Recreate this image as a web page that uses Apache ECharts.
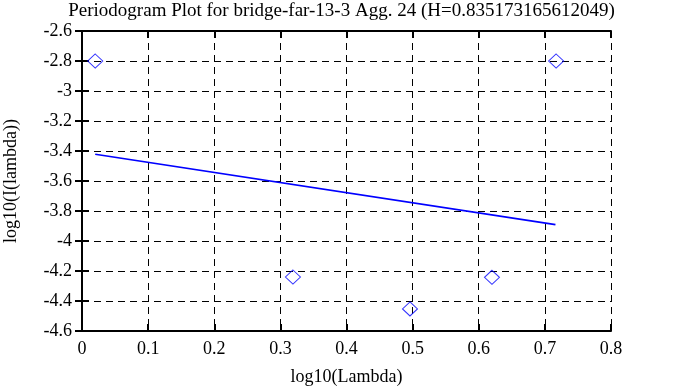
<!DOCTYPE html>
<html><head><meta charset="utf-8">
<script src="https://cdn.jsdelivr.net/npm/echarts@6/dist/echarts.min.js"></script>
<style>html,body{margin:0;padding:0;background:#fff}#c{width:683px;height:387px}</style>
</head><body><div id="c"></div>
<script>
const titleText = 'Periodogram Plot for bridge-far-13-3 Agg. 24 (H=0.835173165612049)';
const xName = 'log10(Lambda)';
const yName = 'log10(I(lambda))';
const logLambda = [0.02, 0.319, 0.496, 0.62, 0.717];
const logI = [-2.8, -4.24, -4.453, -4.242, -2.8];
const fitX = [0.02, 0.716];
const fitY = [-3.422, -3.891];

const font = 'Liberation Serif';
const fs = 18;
const chart = echarts.init(document.getElementById('c'), null, {renderer: 'canvas'});
const gridLine = {show: true, lineStyle: {color: '#000', type: [7, 5], width: 1}};
const axisLine = {show: true, lineStyle: {color: '#000', width: 2}};
const tick = {show: true, inside: true, length: 7, lineStyle: {color: '#000', width: 2}};
chart.setOption({
  animation: false,
  backgroundColor: '#fff',
  title: {text: titleText, left: 'center', top: -3,
    textStyle: {fontFamily: font, fontSize: 19, fontWeight: 'normal', color: '#000'}},
  grid: {left: 82, right: 72, top: 31, bottom: 56, containLabel: false, outerBoundsMode: 'none'},
  xAxis: [{
    type: 'value', min: 0, max: 0.8, interval: 0.1, position: 'bottom',
    name: xName, nameLocation: 'middle', nameGap: 37,
    nameTextStyle: {fontFamily: font, fontSize: fs, color: '#000'},
    axisLine: axisLine, axisTick: tick, splitLine: gridLine,
    axisLabel: {fontFamily: font, fontSize: fs, color: '#000', margin: 9, formatter: v => String(+v.toFixed(1))}
  }, {
    type: 'value', min: 0, max: 0.8, interval: 0.1, position: 'top',
    axisLine: axisLine, axisTick: tick, splitLine: {show: false}, axisLabel: {show: false}
  }],
  yAxis: [{
    type: 'value', min: -4.6, max: -2.6, interval: 0.2, position: 'left',
    name: yName, nameLocation: 'middle', nameGap: 62, nameRotate: 90,
    nameTextStyle: {fontFamily: font, fontSize: fs, color: '#000'},
    axisLine: axisLine, axisTick: tick, splitLine: gridLine,
    axisLabel: {fontFamily: font, fontSize: fs, color: '#000', margin: 10, formatter: v => String(+v.toFixed(1))}
  }, {
    type: 'value', min: -4.6, max: -2.6, interval: 0.2, position: 'right',
    axisLine: axisLine, axisTick: tick, splitLine: {show: false}, axisLabel: {show: false}
  }],
  series: [{
    type: 'scatter', xAxisIndex: 0, yAxisIndex: 0,
    data: logLambda.map((x, i) => [x, logI[i]]),
    symbol: 'diamond', symbolSize: [15, 14],
    itemStyle: {color: 'transparent', borderColor: '#0000ff', borderWidth: 1}
  }, {
    type: 'line', xAxisIndex: 0, yAxisIndex: 0,
    data: fitX.map((x, i) => [x, fitY[i]]),
    symbol: 'none', lineStyle: {color: '#0000ff', width: 1.6}
  }]
});
</script></body></html>
